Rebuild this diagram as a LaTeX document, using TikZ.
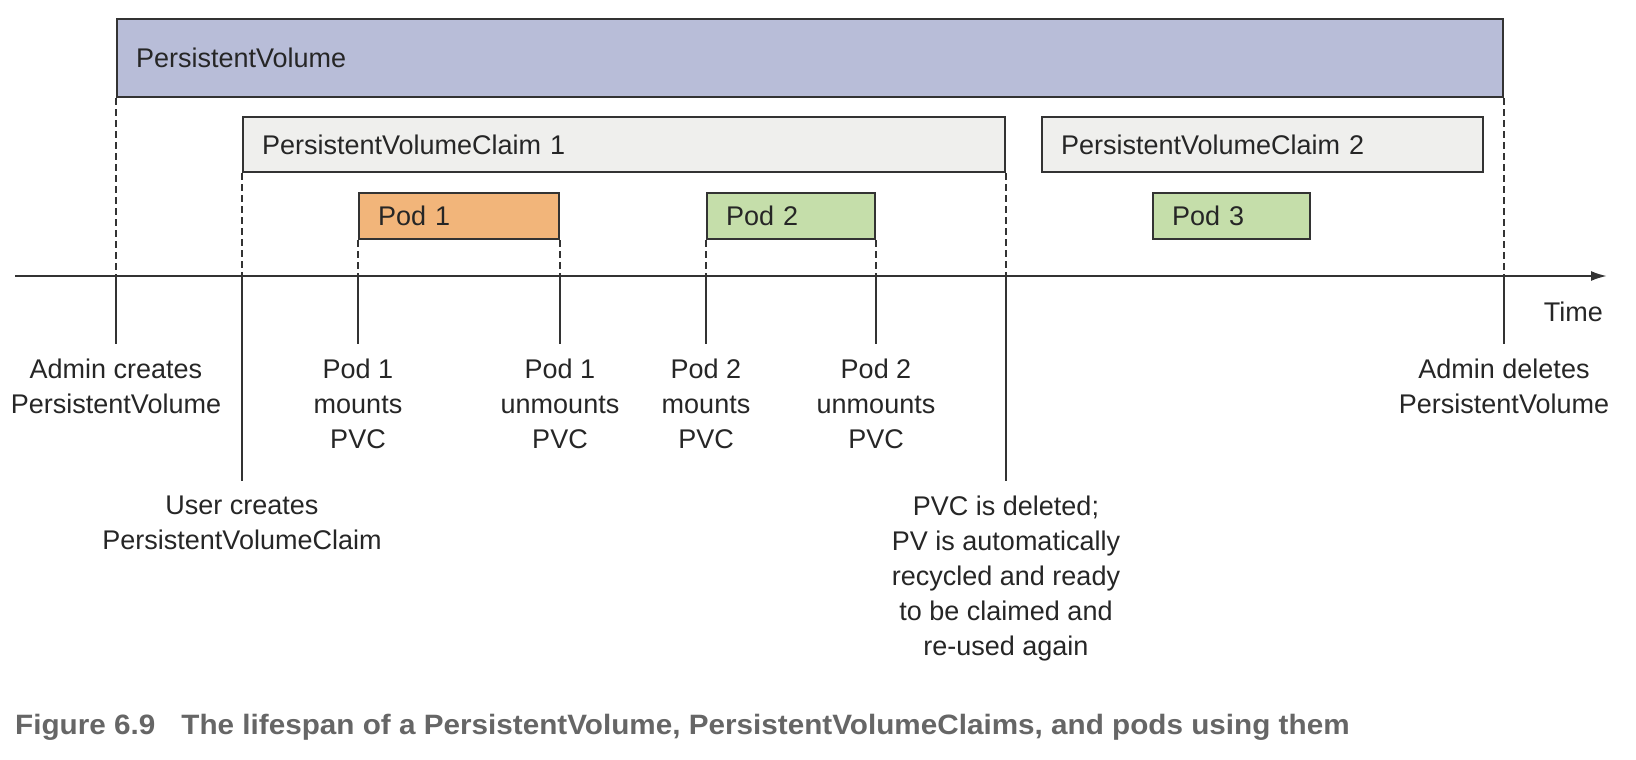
\documentclass[tikz,border=0pt]{standalone}
\usepackage{fontspec}
\setmainfont{Liberation Sans}
\newfontfamily\capfont[FakeStretch=1.06]{Liberation Sans}
\usepackage{tikz}
\usetikzlibrary{arrows.meta}
\definecolor{pvblue}{HTML}{B8BDD8}
\definecolor{pvcgray}{HTML}{EFEFED}
\definecolor{podorange}{HTML}{F2B57A}
\definecolor{podgreen}{HTML}{C5DEAA}
\definecolor{inkgray}{HTML}{333333}
\definecolor{capgray}{HTML}{666666}
\tikzset{span/.style={draw=inkgray, line width=2pt, fill=#1,
 anchor=north west, align=left, inner xsep=19pt, inner ysep=0pt,
 text=black!85, font=\fontsize{27}{35}\selectfont
}}
\tikzset{event/.style={anchor=north, align=center, inner xsep=0pt,
 inner ysep=15pt, text=black!85, font=\fontsize{27}{35}\selectfont
}}
\tikzset{guide/.style={draw=inkgray, line width=1.5pt, dash pattern=on 7pt off 4pt}}
\tikzset{tick/.style={draw=inkgray, line width=1.5pt}}

\begin{document}
\begin{tikzpicture}[x=1pt, y=-1pt]
\useasboundingbox (0,0) rectangle (1636,760);

\node [span=pvblue, minimum width=1386, minimum height=78, text width=1348]
  (pv) at (116,18) {PersistentVolume};
\node [span=pvcgray, minimum width=762, minimum height=55, text width=724]
  (pvcone) at (242,116) {PersistentVolumeClaim 1};
\node [span=pvcgray, minimum width=441, minimum height=55, text width=403]
  (pvctwo) at (1041,116) {PersistentVolumeClaim 2};
\node [span=podorange, minimum width=200, minimum height=46, text width=162]
  (podone) at (358,192) {Pod 1};
\node [span=podgreen, minimum width=168, minimum height=46, text width=130]
  (podtwo) at (706,192) {Pod 2};
\node [span=podgreen, minimum width=157, minimum height=46, text width=119]
  (podthree) at (1152,192) {Pod 3};

% time axis
\coordinate (start) at (15,276);
\coordinate (stop) at (1607,276);
\draw [draw=inkgray, line width=2pt, -{Latex[length=16pt, width=10pt]}]
  (start) -- (stop);
\node [anchor=base east, inner sep=0pt, text=black!85,
  font=\fontsize{27}{35}\selectfont] (time) at (1603,321) {Time};

\foreach \i/\from/\y/\txt in
  {1/pv.south west/344/{Admin creates\\PersistentVolume},
   2/pvcone.south west/481/{User creates\\PersistentVolumeClaim},
   3/podone.south west/344/{Pod 1\\mounts\\PVC},
   4/podone.south east/344/{Pod 1\\unmounts\\PVC},
   5/podtwo.south west/344/{Pod 2\\mounts\\PVC},
   6/podtwo.south east/344/{Pod 2\\unmounts\\PVC},
   7/pvcone.south east/481/{PVC is deleted;\\PV is automatically\\recycled and ready\\to be claimed and\\re-used again},
   8/pv.south east/344/{Admin deletes\\PersistentVolume}}
{
  \coordinate (t\i) at (\from |- start);
  \node [event] (e\i) at (t\i |- 0,\y) {\txt};
  \draw [guide] (\from) -- (t\i);
  \draw [tick] (t\i) -- (e\i.north);
}

\node [anchor=base west, inner sep=0pt, text=capgray,
  font=\capfont\bfseries\fontsize{28}{32}\selectfont] (caption) at (15,734)
  {Figure 6.9\hspace{26pt}The lifespan of a PersistentVolume,
   PersistentVolumeClaims, and pods using them};
\end{tikzpicture}
\end{document}
